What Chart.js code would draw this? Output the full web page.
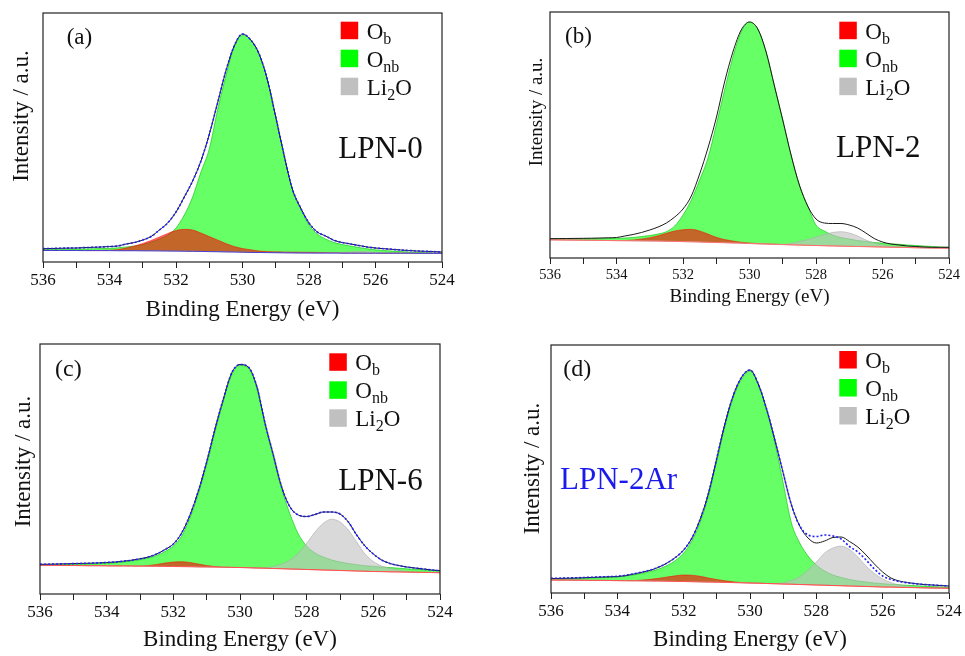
<!DOCTYPE html>
<html>
<head>
<meta charset="utf-8">
<title>O 1s XPS</title>
<script src="https://cdn.jsdelivr.net/npm/chart.js@4.4.1/dist/chart.umd.min.js"></script>
<style>
  body { margin: 0; background: #fff; }
  canvas { position: absolute; }
</style>
</head>
<body>
<canvas id="cA" width="480" height="330" style="left:0;top:0"></canvas>
<canvas id="cB" width="485" height="330" style="left:480px;top:0"></canvas>
<canvas id="cC" width="480" height="326" style="left:0;top:330px"></canvas>
<canvas id="cD" width="485" height="326" style="left:480px;top:330px"></canvas>
<script>
// binding energy grid (eV), shared by every curve
const energy = [536, 535.75, 535.5, 535.25, 535, 534.75, 534.5, 534.25,
  534, 533.75, 533.5, 533.25, 533, 532.75, 532.5, 532.25,
  532, 531.75, 531.5, 531.25, 531, 530.75, 530.5, 530.25,
  530, 529.75, 529.5, 529.25, 529, 528.75, 528.5, 528.25,
  528, 527.75, 527.5, 527.25, 527, 526.75, 526.5, 526.25,
  526, 525.75, 525.5, 525.25, 525, 524.75, 524.5, 524.25, 524];
const xTicks = [536, 534, 532, 530, 528, 526, 524];

// --- (a) LPN-0 ---
const aRaw = [13.3, 13.5, 13.7, 13.9, 14, 14.4, 14.7, 15,
  15.5, 16, 18, 19.5, 22, 25.5, 32, 39,
  50, 65, 81, 101, 127.5, 159, 191, 216,
  228, 222, 208, 182, 145, 107, 73, 54,
  39, 30, 26, 21.7, 19.5, 18, 16.5, 15,
  14, 13.3, 12.7, 12, 11.5, 11, 10.7, 10.4, 10];
const aOnb = [12.5, 12.6, 12.7, 12.8, 12.9, 13, 13.2, 13.4,
  13.7, 14.2, 15, 16, 17.5, 20, 23, 27,
  34, 47, 65, 90, 113, 152, 186, 215,
  227, 222, 208, 182, 145, 107, 72, 53,
  37, 28, 23, 19.5, 17.5, 16, 14.5, 13.2,
  12.2, 11.5, 11, 10.5, 10, 9.7, 9.4, 9.1, 8.8];
const aOb = [11.5, 11.5, 11.5, 11.5, 11.5, 11.5, 11.5, 11.6,
  11.8, 12.5, 14, 16, 18.5, 21.5, 25, 28.5,
  31.5, 32.7, 32, 29, 25.5, 22, 18.5, 15.5,
  13.5, 12.2, 11, 10.5, 10.2, 10, 9.9, 9.8,
  9.7, 9.6, 9.5, 9.4, 9.3, 9.2, 9.1, 9,
  9, 8.9, 8.9, 8.8, 8.8, 8.7, 8.7, 8.7, 8.7];
const aLi2O = [11.5, 11.5, 11.5, 11.5, 11.5, 11.4, 11.4, 11.4,
  11.4, 11.3, 11.3, 11.3, 11.2, 11.2, 11.1, 11,
  10.9, 10.8, 10.7, 10.6, 10.4, 10.3, 10.1, 10,
  9.8, 9.6, 9.5, 9.4, 9.3, 9.2, 9.1, 9,
  9, 8.9, 9.1, 9.3, 9.6, 10.1, 10.6, 10.3,
  9.6, 9.1, 8.8, 8.8, 8.8, 8.7, 8.7, 8.7, 8.7];
const aBg = [11.5, 11.5, 11.5, 11.5, 11.5, 11.4, 11.4, 11.4,
  11.4, 11.3, 11.3, 11.3, 11.2, 11.2, 11.1, 11,
  10.9, 10.8, 10.7, 10.6, 10.4, 10.3, 10.1, 10,
  9.8, 9.6, 9.5, 9.4, 9.3, 9.2, 9.1, 9,
  9, 8.9, 8.9, 8.9, 8.8, 8.8, 8.8, 8.8,
  8.8, 8.8, 8.8, 8.8, 8.8, 8.7, 8.7, 8.7, 8.7];

// --- (b) LPN-2 (no fit envelope drawn) ---
const bRaw = [19.3, 19.4, 19.5, 19.6, 19.7, 19.8, 20, 20.2,
  20.5, 22, 23.5, 25.5, 28, 31, 35, 41,
  49, 62, 84, 110, 140, 176, 206, 228,
  236, 229, 206, 172, 138, 103, 73, 52,
  39, 35, 34.5, 34.5, 33, 30, 25, 19.5,
  16, 14, 13, 12, 11.5, 11, 10.7, 10.7, 10.7];
const bOnb = [19.4, 19.4, 19.4, 19.4, 19.4, 19.4, 19.4, 19.5,
  19.7, 20, 20.5, 21.5, 22.5, 24, 26.3, 32,
  43, 58, 78, 100, 133, 168, 201, 226,
  236, 229, 206, 172, 138, 103, 73, 52,
  33, 27, 23, 20.5, 19, 17.5, 16.5, 15.5,
  14.8, 14.2, 13.7, 13, 12.5, 12, 11.5, 11, 10.7];
const bOb = [18.2, 18.1, 18, 17.9, 17.8, 17.7, 17.6, 17.5,
  17.4, 17.5, 18, 19, 20.3, 22.2, 24.7, 27,
  28.3, 28.7, 27, 24, 20.7, 18.5, 17, 15.8,
  15, 14.4, 14.1, 13.8, 13.5, 13.2, 13, 12.7,
  12.5, 12.3, 12.1, 11.9, 11.7, 11.5, 11.4, 11.2,
  11, 10.8, 10.7, 10.5, 10.3, 10.2, 10, 9.9, 9.7];
const bLi2O = [18.2, 18.1, 18, 17.9, 17.8, 17.7, 17.6, 17.5,
  17.4, 17.3, 17.2, 17.1, 17, 16.9, 16.7, 16.6,
  16.4, 16.2, 16, 15.7, 15.5, 15.3, 15, 14.8,
  14.5, 14.2, 14, 13.8, 13.5, 14.7, 16.5, 18.5,
  21, 23.5, 25.5, 26.3, 25, 22, 18, 15,
  13, 11.7, 11, 10.5, 10.3, 10.2, 10, 9.9, 9.7];
const bBg = [18.2, 18.1, 18, 17.9, 17.8, 17.7, 17.6, 17.5,
  17.4, 17.3, 17.2, 17.1, 17, 16.9, 16.7, 16.6,
  16.4, 16.2, 16, 15.7, 15.5, 15.3, 15, 14.8,
  14.5, 14.2, 14, 13.7, 13.4, 13.2, 13, 12.7,
  12.5, 12.3, 12.1, 11.9, 11.7, 11.5, 11.4, 11.2,
  11, 10.8, 10.7, 10.5, 10.3, 10.2, 10, 9.9, 9.7];

// --- (c) LPN-6 ---
const cRaw = [29.7, 29.8, 30, 30.2, 30.4, 30.6, 30.8, 31.1,
  31.5, 32, 32.8, 33.8, 35.2, 37, 40, 44.5,
  50, 61, 79, 103, 132, 165, 195, 221,
  229.5, 227, 208, 171, 139, 107, 87, 79,
  77.5, 79.5, 82, 82, 80, 72, 59, 48,
  40, 34, 30.5, 28.5, 27, 26, 25, 24, 23.3];
const cOnb = [29, 29.1, 29.2, 29.4, 29.6, 29.8, 30, 30.3,
  30.7, 31.2, 32, 33, 34.2, 36, 38.5, 42.5,
  48, 58, 76, 100, 129, 162, 193, 219,
  228.5, 226, 207, 170, 138, 105, 80, 60,
  48, 41, 37, 34, 32, 30.5, 29.3, 28.3,
  27.6, 27, 26.4, 25.8, 25.2, 24.7, 24.2, 23.8, 23.3];
const cOb = [28.7, 28.7, 28.6, 28.5, 28.5, 28.4, 28.3, 28.3,
  28.2, 28.1, 28.1, 28, 27.9, 28.5, 29.5, 31,
  32, 32.3, 31.5, 30, 28.5, 27.5, 26.8, 26.6,
  26.5, 26.3, 26, 25.8, 25.5, 25.3, 25, 24.8,
  24.5, 24.3, 24, 23.8, 23.5, 23.3, 23, 22.8,
  22.5, 22.4, 22.2, 22.1, 21.9, 21.8, 21.6, 21.5, 21.3];
const cLi2O = [28.7, 28.7, 28.6, 28.5, 28.5, 28.4, 28.3, 28.3,
  28.2, 28.1, 28.1, 28, 27.9, 27.8, 27.7, 27.6,
  27.5, 27.4, 27.3, 27.1, 27, 26.9, 26.8, 26.6,
  26.5, 26.3, 26, 26.2, 27.5, 30, 34, 41,
  50.7, 62, 70.7, 74.8, 72, 64, 52, 40,
  32.5, 28, 25.5, 24, 22.5, 21.8, 21.6, 21.5, 21.3];
const cBg = [28.7, 28.7, 28.6, 28.5, 28.5, 28.4, 28.3, 28.3,
  28.2, 28.1, 28.1, 28, 27.9, 27.8, 27.7, 27.6,
  27.5, 27.4, 27.3, 27.1, 27, 26.9, 26.8, 26.6,
  26.5, 26.3, 26, 25.8, 25.5, 25.3, 25, 24.8,
  24.5, 24.3, 24, 23.8, 23.5, 23.3, 23, 22.8,
  22.5, 22.4, 22.2, 22.1, 21.9, 21.8, 21.6, 21.5, 21.3];

// --- (d) LPN-2Ar ---
const dFit = [14.7, 14.8, 15, 15.2, 15.5, 15.8, 16.1, 16.4,
  16.7, 17.7, 19.2, 21, 23, 26, 30, 35.5,
  43, 55, 74, 100, 135, 170, 198, 216,
  223, 209, 184, 153, 120, 88, 67, 58,
  56.5, 58, 57, 54, 46.5, 41, 33, 24,
  17, 13.5, 11.5, 10.2, 9.2, 8.5, 8, 7.5, 7];
const dRaw = [14.5, 14.6, 14.8, 15, 15.3, 15.6, 15.9, 16.2,
  16.5, 17.4, 19, 20.8, 22.8, 25.8, 30, 35.5,
  43, 55, 74, 100, 135, 170, 198, 216,
  223, 209, 184, 153, 120, 88, 67, 55,
  50, 52, 55.5, 56, 51.5, 46, 38, 29,
  21, 15, 12, 10.4, 9.3, 8.5, 8, 7.5, 7];
const dOnb = [14, 14.1, 14.3, 14.5, 14.7, 15, 15.3, 15.7,
  16, 17, 18.2, 19.7, 21.5, 24, 27.5, 32.5,
  40, 52, 71, 97, 132, 167, 196, 214,
  222, 208, 183, 150, 110, 70, 50, 37,
  28, 22, 18, 15.5, 13.5, 12, 11, 10,
  9.3, 8.7, 8.2, 7.7, 7.3, 6.9, 6.5, 6.1, 5.7];
const dOb = [13, 12.9, 12.9, 12.8, 12.7, 12.6, 12.6, 12.5,
  12.4, 12.3, 12.4, 13, 13.7, 14.7, 16, 17.2,
  18, 17.8, 16.7, 15, 13.5, 12.2, 11.2, 10.4,
  10, 9.8, 9.5, 9.3, 9, 8.8, 8.5, 8.3,
  8, 7.8, 7.5, 7.3, 7, 6.8, 6.5, 6.3,
  6, 5.9, 5.7, 5.5, 5.4, 5.2, 5, 4.9, 4.7];
const dLi2O = [13, 12.9, 12.9, 12.8, 12.7, 12.6, 12.6, 12.5,
  12.4, 12.3, 12.2, 12.1, 12, 11.9, 11.8, 11.6,
  11.5, 11.3, 11.1, 10.9, 10.8, 10.6, 10.4, 10.2,
  10, 9.8, 9.5, 9.3, 10.2, 12.5, 16.3, 23,
  31, 40, 45, 46.8, 43.5, 36, 27, 19.5,
  14, 10.5, 8, 6.7, 5.4, 5.2, 5, 4.9, 4.7];
const dBg = [13, 12.9, 12.9, 12.8, 12.7, 12.6, 12.6, 12.5,
  12.4, 12.3, 12.2, 12.1, 12, 11.9, 11.8, 11.6,
  11.5, 11.3, 11.1, 10.9, 10.8, 10.6, 10.4, 10.2,
  10, 9.8, 9.5, 9.3, 9, 8.8, 8.5, 8.3,
  8, 7.8, 7.5, 7.3, 7, 6.8, 6.5, 6.3,
  6, 5.9, 5.7, 5.5, 5.4, 5.2, 5, 4.9, 4.7];

const serif = "'Liberation Serif', 'Times New Roman', serif";
const legendRows = [
  { color: '#ff0000', main: 'O', sub: 'b', tail: '' },
  { color: '#00ff00', main: 'O', sub: 'nb', tail: '' },
  { color: '#c0c0c0', main: 'Li', sub: '2', tail: 'O' }
];

// frame, panel letter, sample name, y title and legend (needs subscripts)
const panelText = {
  id: 'panelText',
  afterDraw(chart, args, o) {
    const ctx = chart.ctx;
    const a = chart.chartArea;
    ctx.save();
    ctx.strokeStyle = '#222';
    ctx.lineWidth = 1.2;
    ctx.strokeRect(a.left, a.top, a.right - a.left, a.bottom - a.top);

    ctx.textAlign = 'left';
    ctx.textBaseline = 'alphabetic';
    ctx.fillStyle = '#111';
    ctx.font = o.letterSize + 'px ' + serif;
    ctx.fillText(o.letter, o.letterX, o.letterY);

    ctx.fillStyle = o.nameColor;
    ctx.font = '31px ' + serif;
    ctx.fillText(o.name, o.nameX, o.nameY);

    ctx.save();
    ctx.translate(o.yTitleX, o.yTitleY);
    ctx.rotate(-Math.PI / 2);
    ctx.textAlign = 'center';
    ctx.textBaseline = 'middle';
    ctx.fillStyle = '#111';
    ctx.font = o.yTitleSize + 'px ' + serif;
    ctx.fillText('Intensity / a.u.', 0, 0);
    ctx.restore();

    legendRows.forEach((row, i) => {
      const top = o.legendY + i * 28;
      ctx.fillStyle = row.color;
      ctx.fillRect(o.legendX, top, 17.5, 17.5);
      ctx.fillStyle = '#111';
      let x = o.legendX + 26;
      const base = top + 17;
      ctx.font = '23px ' + serif;
      ctx.fillText(row.main, x, base);
      x += ctx.measureText(row.main).width;
      ctx.font = '16px ' + serif;
      ctx.fillText(row.sub, x, base + 5);
      x += ctx.measureText(row.sub).width;
      ctx.font = '23px ' + serif;
      ctx.fillText(row.tail, x, base);
    });
    ctx.restore();
  }
};

function drawPanel(id, p) {
  const canvas = document.getElementById(id);
  const W = canvas.width, H = canvas.height;
  const pts = vals => energy.map((e, i) => ({ x: e, y: vals[i] }));

  const datasets = [];
  if (p.fit) {
    datasets.push({ label: 'Fit', data: pts(p.fit), borderColor: '#1f1fff', borderWidth: 1.6, borderDash: [2, 2] });
  }
  datasets.push({ label: 'Raw', data: pts(p.raw), borderColor: '#1a1a1a', borderWidth: 1 });
  const bgIndex = datasets.length;
  datasets.push({ label: 'Background', data: pts(p.bg), borderColor: p.bgColor, borderWidth: 1 });
  datasets.push({ label: 'Li2O', data: pts(p.li2o), fill: bgIndex,
    backgroundColor: 'rgba(192,192,192,0.6)', borderColor: 'rgba(170,170,170,0.6)', borderWidth: 1 });
  datasets.push({ label: 'Ob', data: pts(p.ob), fill: bgIndex,
    backgroundColor: 'rgba(255,0,0,0.6)', borderColor: 'rgba(255,0,0,0.5)', borderWidth: 1 });
  datasets.push({ label: 'Onb', data: pts(p.onb), fill: bgIndex,
    backgroundColor: 'rgba(0,255,0,0.6)', borderColor: 'rgba(0,190,0,0.6)', borderWidth: 1 });

  return new Chart(canvas, {
    type: 'line',
    data: { datasets },
    plugins: [panelText],
    options: {
      responsive: false,
      animation: false,
      events: [],
      layout: { padding: { left: p.box[0], top: p.box[1], right: W - p.box[2], bottom: 0 } },
      elements: {
        point: { radius: 0 },
        line: { cubicInterpolationMode: 'monotone', fill: false }
      },
      plugins: {
        legend: { display: false },
        tooltip: { enabled: false },
        panelText: p.text
      },
      scales: {
        x: {
          type: 'linear',
          min: 524,
          max: 536,
          reverse: true,
          afterFit: s => { s.height = H - p.box[3]; },
          border: { display: false },
          grid: { drawOnChartArea: false, tickLength: 6, color: '#222' },
          ticks: {
            stepSize: 1,
            autoSkip: false,
            maxRotation: 0,
            padding: 2,
            color: '#111',
            font: { family: serif, size: p.tickSize },
            callback: v => xTicks.includes(v) ? String(v) : ''
          },
          title: {
            display: true,
            text: 'Binding Energy (eV)',
            color: '#111',
            font: { family: serif, size: p.titleSize },
            padding: { top: 0, bottom: p.titlePad }
          }
        },
        y: { display: false, min: 0, max: p.box[3] - p.box[1] }
      }
    }
  });
}

drawPanel('cA', {
  raw: aRaw, fit: aRaw, onb: aOnb, ob: aOb, li2o: aLi2O, bg: aBg, bgColor: '#4a3ad0',
  box: [43, 13, 442, 262], tickSize: 17, titleSize: 23, titlePad: 6,
  text: { letter: '(a)', letterX: 66.7, letterY: 44, letterSize: 23,
    name: 'LPN-0', nameX: 338.3, nameY: 158.3, nameColor: '#111',
    yTitleX: 21.7, yTitleY: 116, yTitleSize: 23, legendX: 340.7, legendY: 21.7 }
});
drawPanel('cB', {
  raw: bRaw, fit: null, onb: bOnb, ob: bOb, li2o: bLi2O, bg: bBg, bgColor: '#ff7070',
  box: [70, 12, 469, 258], tickSize: 14.5, titleSize: 19, titlePad: 22,
  text: { letter: '(b)', letterX: 85, letterY: 42.5, letterSize: 23,
    name: 'LPN-2', nameX: 356, nameY: 156.7, nameColor: '#111',
    yTitleX: 57.5, yTitleY: 112, yTitleSize: 19, legendX: 359.3, legendY: 21.7 }
});
drawPanel('cC', {
  raw: cRaw, fit: cRaw, onb: cOnb, ob: cOb, li2o: cLi2O, bg: cBg, bgColor: '#ff5050',
  box: [40, 14, 440, 264], tickSize: 17, titleSize: 23, titlePad: 2,
  text: { letter: '(c)', letterX: 55, letterY: 45.7, letterSize: 24,
    name: 'LPN-6', nameX: 338.3, nameY: 160, nameColor: '#111',
    yTitleX: 24, yTitleY: 131.5, yTitleSize: 23, legendX: 329.3, legendY: 23.3 }
});
drawPanel('cD', {
  raw: dRaw, fit: dFit, onb: dOnb, ob: dOb, li2o: dLi2O, bg: dBg, bgColor: '#ff5050',
  box: [71, 15, 469, 263], tickSize: 17, titleSize: 23, titlePad: 2,
  text: { letter: '(d)', letterX: 83.3, letterY: 45.7, letterSize: 24,
    name: 'LPN-2Ar', nameX: 80, nameY: 159.3, nameColor: '#1a1aee',
    yTitleX: 53.3, yTitleY: 138.5, yTitleSize: 23, legendX: 359.3, legendY: 21 }
});
</script>
</body>
</html>
